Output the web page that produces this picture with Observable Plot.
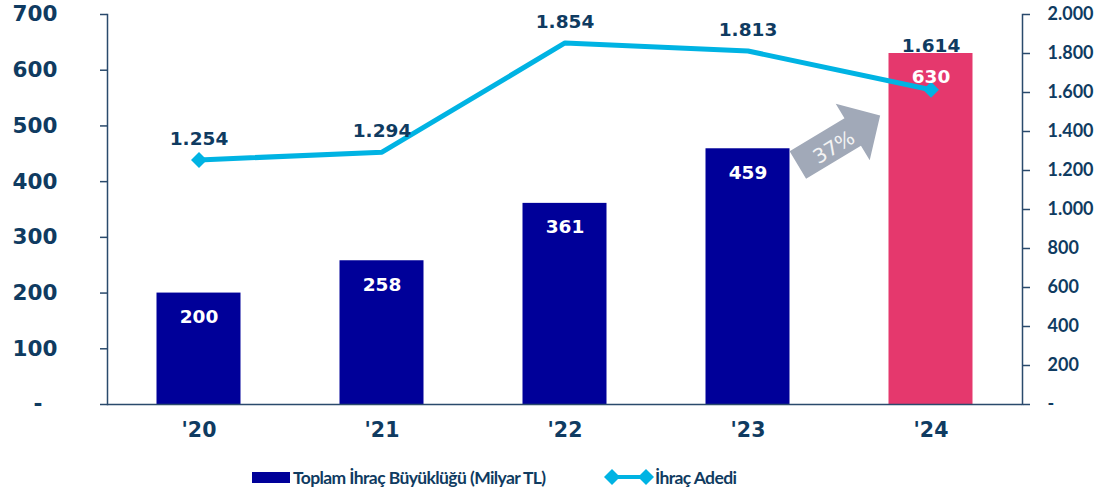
<!DOCTYPE html>
<html><head><meta charset="utf-8">
<script src="https://cdn.jsdelivr.net/npm/d3@7"></script>
<script src="https://cdn.jsdelivr.net/npm/@observablehq/plot@0.6"></script>
<style>
body{margin:0;background:#fff;}
#chart svg{display:block;}
#legend{position:relative;width:1099px;height:40px;font-family:Lato,"Open Sans",sans-serif;font-weight:bold;font-size:17.5px;letter-spacing:-0.6px;color:#0F3B61;}
#legend .it{position:absolute;top:2px;height:40px;display:flex;align-items:center;white-space:nowrap;}
</style></head><body>
<div id="chart"></div>
<div id="legend"></div>
<script>
const years = ["'20", "'21", "'22", "'23", "'24"];
const totalIssuance = [200, 258, 361, 459, 630];       // Toplam İhraç Büyüklüğü (Milyar TL)
const issuanceCount = [1254, 1294, 1854, 1813, 1614];  // İhraç Adedi
const leftTicks = [0, 100, 200, 300, 400, 500, 600, 700];
const rightTicks = [0, 200, 400, 600, 800, 1000, 1200, 1400, 1600, 1800, 2000];
const seriesNames = ["Toplam İhraç Büyüklüğü (Milyar TL)", "İhraç Adedi"];

const navy = "#000099", pink = "#E5386D", cyan = "#00B3E3";
const textCol = "#0F3B61", axisCol = "#2A4A6C", arrowCol = "#A1A9B8";
const k = 700 / 2000;
const last = years.length - 1;
const data = years.map((y, i) => ({year: y, total: totalIssuance[i], count: issuanceCount[i], i}));
const trFmt = d3.formatLocale({decimal: ",", thousands: ".", grouping: [3], currency: ["", ""]}).format(",d");
const growth = Math.round((totalIssuance[last] / totalIssuance[last - 1] - 1) * 100) + "%";

function growthArrow(index, scales) {
  const ns = "http://www.w3.org/2000/svg";
  const cx = scales.x(years[last]);
  const cy = scales.y(totalIssuance[last - 1]) - 8;
  const g = document.createElementNS(ns, "g");
  g.setAttribute("transform", `translate(${cx},${cy}) rotate(-31)`);
  const p = document.createElementNS(ns, "polygon");
  p.setAttribute("points", "-48,-16 16,-16 16,-33 48,0 16,33 16,16 -48,16");
  p.setAttribute("fill", arrowCol);
  g.appendChild(p);
  const t = document.createElementNS(ns, "text");
  t.setAttribute("x", -8); t.setAttribute("y", 3);
  t.setAttribute("dy", "0.35em");
  t.setAttribute("text-anchor", "middle");
  t.setAttribute("fill", "#F4F4F4");
  t.setAttribute("font-family", "DejaVu Sans");
  t.setAttribute("font-size", 20);
  t.textContent = growth;
  g.appendChild(t);
  return g;
}

const chart = Plot.plot({
  width: 1099, height: 455,
  marginLeft: 107, marginRight: 77, marginTop: 14, marginBottom: 51,
  x: {domain: years, padding: 0, label: null},
  y: {domain: [0, 700], label: null},
  color: {type: "identity"},
  marks: [
    Plot.barY(data, {x: "year", y: "total", fill: d => d.i === last ? pink : navy, insetLeft: 49.5, insetRight: 49.5}),
    Plot.ruleY([0], {stroke: axisCol, strokeWidth: 1.5}),
    Plot.frame({anchor: "left", stroke: axisCol, strokeWidth: 1.5}),
    Plot.frame({anchor: "right", stroke: axisCol, strokeWidth: 1.5}),
    Plot.axisY(leftTicks, {anchor: "left", label: null, tickSize: 7, tickPadding: 43,
      tickFormat: v => v === 0 ? "-\u2007" : String(v),
      fontSize: 21.5, fontWeight: "bold", fontFamily: "DejaVu Sans", fill: textCol, stroke: axisCol, strokeWidth: 1.5}),
    Plot.axisY(rightTicks.map(v => v * k), {anchor: "right", label: null, tickSize: 7, tickPadding: 18,
      tickFormat: v => { const r = Math.round(v / k); return r === 0 ? "-" : trFmt(r); },
      fontSize: 18, fontWeight: "bold", fontFamily: "Lato", fill: textCol, stroke: axisCol, strokeWidth: 1.5}),
    Plot.axisX({anchor: "bottom", label: null, tickSize: 0, tickPadding: 18,
      fontSize: 20.5, fontWeight: "bold", fontFamily: "DejaVu Sans", fill: textCol}),
    Plot.line(data, {x: "year", y: d => d.count * k, stroke: cyan, strokeWidth: 5}),
    Plot.dot(data.filter(d => d.i === 0 || d.i === last), {x: "year", y: d => d.count * k, symbol: "diamond2", r: 7.2, fill: cyan}),
    Plot.text(data.filter(d => d.i !== last), {x: "year", y: d => d.count * k, text: d => trFmt(d.count), dy: -21,
      fontSize: 18.5, fontWeight: "bold", fontFamily: "DejaVu Sans", fill: textCol}),
    Plot.text(data.filter(d => d.i === last), {x: "year", y: d => d.count * k, text: d => trFmt(d.count), dy: -44,
      fontSize: 18.5, fontWeight: "bold", fontFamily: "DejaVu Sans", fill: textCol}),
    Plot.text(data, {x: "year", y: "total", text: d => String(d.total), dy: 24,
      fontSize: 18.5, fontWeight: "bold", fontFamily: "DejaVu Sans", fill: "white"}),
    growthArrow
  ]
});
document.getElementById("chart").appendChild(chart);

const legend = document.getElementById("legend");
legend.innerHTML = `
  <div class="it" style="left:252px"><svg width="38" height="11" style="margin-right:3px"><rect width="38" height="11" fill="${navy}"/></svg><span>${seriesNames[0]}</span></div>
  <div class="it" style="left:604px"><svg width="50" height="18" style="margin-right:1px"><line x1="8" x2="42" y1="9" y2="9" stroke="${cyan}" stroke-width="4"/><path d="M0,9L8,1L16,9L8,17Z" fill="${cyan}"/><path d="M34,9L42,1L50,9L42,17Z" fill="${cyan}"/></svg><span>${seriesNames[1]}</span></div>`;
</script>
</body></html>
